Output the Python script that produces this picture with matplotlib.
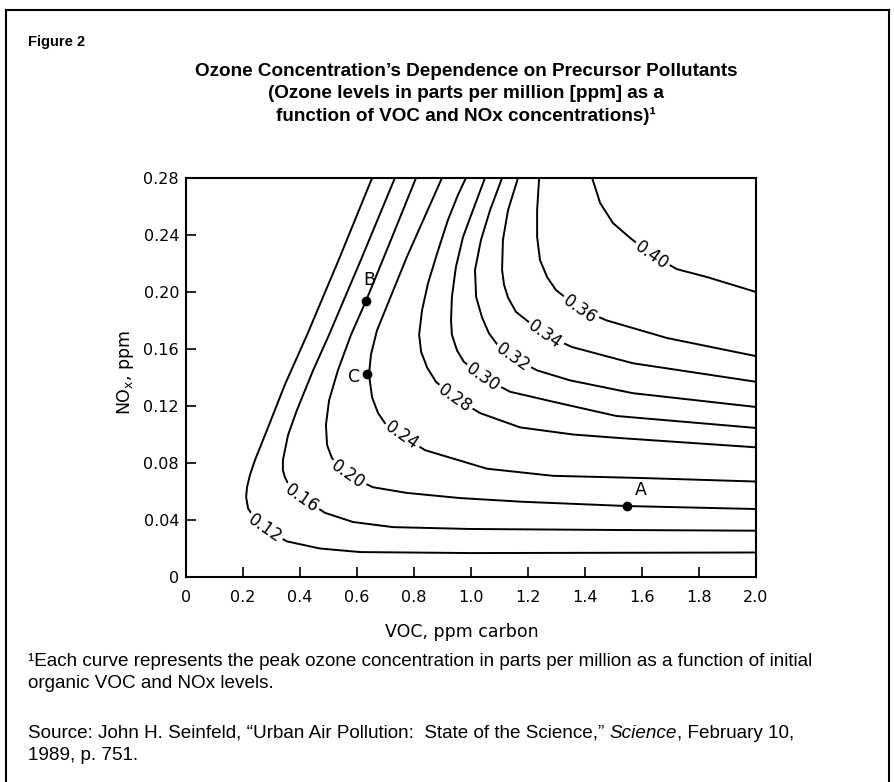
import matplotlib
matplotlib.use("Agg")
import matplotlib.pyplot as plt
from matplotlib.lines import Line2D

# isopleth levels (ppm ozone) and curves: VOC (ppm C) vs NOx (ppm)
levels = [0.12, 0.16, 0.20, 0.24, 0.28, 0.30, 0.32, 0.34, 0.36, 0.40]

voc_012 = [0.653, 0.540, 0.425, 0.347, 0.284, 0.242, 0.225, 0.214, 0.211, 0.218, 0.242, 0.277, 0.354, 0.470, 0.611, 1.0, 1.5, 2.0]
nox_012 = [0.280, 0.2246, 0.170, 0.135, 0.103, 0.082, 0.072, 0.063, 0.056, 0.048, 0.041, 0.034, 0.025, 0.020, 0.0175, 0.0168, 0.0170, 0.0172]

voc_016 = [0.733, 0.618, 0.502, 0.446, 0.389, 0.358, 0.340, 0.340, 0.347, 0.365, 0.407, 0.488, 0.586, 0.726, 0.996, 1.5, 2.0]
nox_016 = [0.280, 0.2246, 0.170, 0.145, 0.117, 0.0996, 0.082, 0.075, 0.070, 0.063, 0.0554, 0.045, 0.0386, 0.035, 0.0337, 0.0330, 0.0325]

voc_020 = [0.807, 0.719, 0.632, 0.579, 0.533, 0.502, 0.491, 0.495, 0.512, 0.565, 0.656, 0.775, 0.961, 1.18, 1.547, 2.0]
nox_020 = [0.280, 0.2365, 0.194, 0.170, 0.145, 0.124, 0.1067, 0.0926, 0.0835, 0.0716, 0.063, 0.059, 0.0554, 0.0528, 0.0498, 0.0477]

voc_024 = [0.898, 0.775, 0.670, 0.649, 0.642, 0.653, 0.674, 0.698, 0.758, 0.839, 1.056, 1.288, 1.593, 2.0]
nox_024 = [0.280, 0.2246, 0.173, 0.156, 0.142, 0.126, 0.115, 0.108, 0.099, 0.089, 0.076, 0.071, 0.0695, 0.067]

voc_028 = [0.982, 0.954, 0.919, 0.881, 0.849, 0.828, 0.818, 0.825, 0.846, 0.877, 0.944, 1.032, 1.172, 1.358, 1.523, 2.0]
nox_028 = [0.280, 0.268, 0.2505, 0.227, 0.206, 0.187, 0.170, 0.158, 0.147, 0.137, 0.1256, 0.115, 0.105, 0.100, 0.0975, 0.091]

voc_030 = [1.049, 1.007, 0.972, 0.947, 0.933, 0.930, 0.933, 0.951, 0.975, 1.042, 1.137, 1.288, 1.51, 2.0]
nox_030 = [0.280, 0.2575, 0.2386, 0.2175, 0.1965, 0.180, 0.170, 0.159, 0.151, 0.140, 0.130, 0.123, 0.113, 0.1046]

voc_032 = [1.109, 1.067, 1.035, 1.014, 1.018, 1.039, 1.063, 1.091, 1.147, 1.232, 1.347, 1.568, 2.0]
nox_032 = [0.280, 0.2575, 0.2365, 0.2154, 0.1965, 0.182, 0.171, 0.1635, 0.154, 0.145, 0.138, 0.129, 0.1193]

voc_034 = [1.165, 1.130, 1.112, 1.109, 1.116, 1.130, 1.158, 1.260, 1.354, 1.568, 2.0]
nox_034 = [0.280, 0.2575, 0.2365, 0.2154, 0.205, 0.196, 0.186, 0.170, 0.1614, 0.150, 0.137]

voc_036 = [1.239, 1.232, 1.232, 1.242, 1.267, 1.298, 1.382, 1.477, 1.688, 2.0]
nox_036 = [0.280, 0.2575, 0.2386, 0.2225, 0.2105, 0.2014, 0.188, 0.180, 0.1677, 0.155]

voc_040 = [1.425, 1.453, 1.498, 1.558, 1.635, 1.723, 1.828, 2.0]
nox_040 = [0.280, 0.2625, 0.2484, 0.238, 0.226, 0.216, 0.2105, 0.200]

curves_voc = [voc_012, voc_016, voc_020, voc_024, voc_028, voc_030, voc_032, voc_034, voc_036, voc_040]
curves_nox = [nox_012, nox_016, nox_020, nox_024, nox_028, nox_030, nox_032, nox_034, nox_036, nox_040]

# where each level's inline label sits
label_voc = [0.277, 0.407, 0.568, 0.758, 0.944, 1.042, 1.147, 1.260, 1.382, 1.635]
label_nox = [0.034, 0.0554, 0.0716, 0.099, 0.1256, 0.140, 0.154, 0.170, 0.188, 0.226]

# marked points
point_names = ["A", "B", "C"]
point_voc = [1.547, 0.632, 0.635]
point_nox = [0.0498, 0.194, 0.1425]

xticks = [0, 0.2, 0.4, 0.6, 0.8, 1.0, 1.2, 1.4, 1.6, 1.8, 2.0]
xtick_labels = ["0", "0.2", "0.4", "0.6", "0.8", "1.0", "1.2", "1.4", "1.6", "1.8", "2.0"]
yticks = [0, 0.04, 0.08, 0.12, 0.16, 0.20, 0.24, 0.28]
ytick_labels = ["0", "0.04", "0.08", "0.12", "0.16", "0.20", "0.24", "0.28"]

W, H = 894, 782
fig = plt.figure(figsize=(W / 100, H / 100), dpi=100)
ax = fig.add_axes([186 / W, 1 - 577 / H, 570 / W, 399 / H])

for xs, ys in zip(curves_voc, curves_nox):
    ax.plot(xs, ys, color="black", lw=1.4)

for lvl, lx, ly in zip(levels, label_voc, label_nox):
    ax.text(lx, ly, "%.2f" % lvl, rotation=-35, rotation_mode="anchor",
            ha="center", va="center", fontsize=12, family="DejaVu Sans",
            bbox=dict(boxstyle="square,pad=0.12", fc="white", ec="none"), zorder=3)

ax.plot(point_voc, point_nox, "o", color="black", ms=6, zorder=4)
offsets = [(6, 5), (-2, 8), (-14, -2)]
valigns = ["bottom", "bottom", "center"]
for name, px, py, off, va in zip(point_names, point_voc, point_nox, offsets, valigns):
    ax.annotate(name, (px, py), xytext=off, textcoords="offset points",
                ha="left", va=va, fontsize=12.5, zorder=4)

ax.set_xlim(0, 2.0)
ax.set_ylim(0, 0.28)
ax.set_xticks(xticks)
ax.set_xticklabels(xtick_labels)
ax.set_yticks(yticks)
ax.set_yticklabels(ytick_labels)
ax.tick_params(direction="in", length=7, width=1.2, labelsize=11.5)
ax.tick_params(axis="x", pad=9)
ax.tick_params(axis="y", pad=5)
for s in ax.spines.values():
    s.set_linewidth(1.5)

fig.text(126 / W, 1 - 372 / H, r"NO$_\mathregular{x}$, ppm", rotation=90,
         ha="center", va="center", fontsize=12.5)
fig.text(462 / W, 1 - 632 / H, "VOC, ppm carbon", ha="center", va="center", fontsize=12.5)

# header
hfont = "Liberation Sans"
fig.text(28 / W, 1 - 42 / H, "Figure 2", ha="left", va="center",
         fontsize=10.5, fontweight="bold", family=hfont)
title_lines = ["Ozone Concentration\u2019s Dependence on Precursor Pollutants",
               "(Ozone levels in parts per million [ppm] as a",
               "function of VOC and NOx concentrations)\u00b9"]
for i, line in enumerate(title_lines):
    fig.text(466 / W, 1 - (71 + 22.5 * i) / H, line, ha="center", va="center",
             fontsize=13.6, fontweight="bold", family=hfont)

# footnotes
fs = 13.6
fig.text(28 / W, 1 - 661 / H,
         "\u00b9Each curve represents the peak ozone concentration in parts per million as a function of initial",
         ha="left", va="center", fontsize=fs, family=hfont)
fig.text(28 / W, 1 - 684 / H, "organic VOC and NOx levels.",
         ha="left", va="center", fontsize=fs, family=hfont)
t1 = fig.text(28 / W, 1 - 742 / H,
              "Source: John H. Seinfeld, \u201cUrban Air Pollution:  State of the Science,\u201d ",
              ha="left", va="bottom", fontsize=fs, family=hfont)
t2 = plt.annotate("Science", xy=(1, 0), xycoords=t1, ha="left", va="bottom",
                  fontsize=fs, family=hfont, fontstyle="italic")
plt.annotate(", February 10,", xy=(1, 0), xycoords=t2, ha="left", va="bottom",
             fontsize=fs, family=hfont)
fig.text(28 / W, 1 - 755 / H, "1989, p. 751.",
         ha="left", va="center", fontsize=fs, family=hfont)

# frame around the whole figure
for xs, ys in [([6, 6], [782, 10]), ([6, 889], [10, 10]), ([889, 889], [10, 782])]:
    fig.add_artist(Line2D([x / W for x in xs], [1 - y / H for y in ys],
                          color="black", lw=1.5))

fig.savefig("out.png", dpi=100)
